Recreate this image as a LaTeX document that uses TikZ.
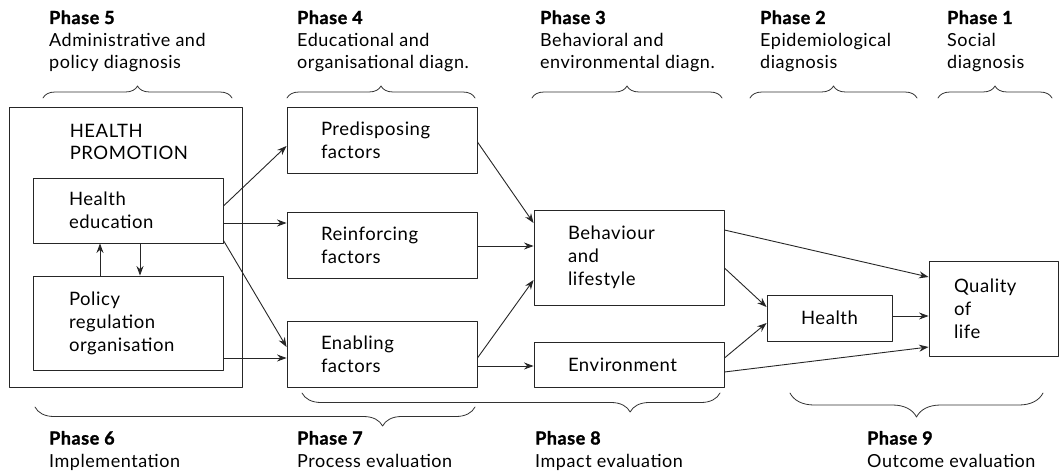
\documentclass[tikz,border=0pt]{standalone}
\usepackage{fontspec}
\setmainfont{Lato}[LetterSpace=3, BoldFeatures={FakeBold=1.5}]
\usetikzlibrary{arrows.meta,decorations.pathreplacing}
\begin{document}
\begin{tikzpicture}[line cap=round, line join=round, x=1pt, y=-1pt, >={Stealth[length=9.5pt,width=7pt]},
	box/.style={draw=black!85, line width=0.9pt, align=left, inner xsep=34pt, text width=122pt, font=\fontsize{18.5}{23}\selectfont},
	phase/.style={anchor=base west, align=left, inner sep=0pt, font=\fontsize{18}{22.5}\selectfont},
	link/.style={->, draw=black!85, line width=0.9pt},
	topbrace/.style={draw=black!80, line width=0.8pt, decorate, decoration={brace, amplitude=12pt}},
	lowbrace/.style={draw=black!80, line width=0.8pt, decorate, decoration={brace, mirror, amplitude=#1}}]
	\useasboundingbox (0,0) rectangle (1060,476);
	\node[phase] (p5) at (49,69) {\textbf{Phase 5}\\Administrative and\\policy diagnosis};
	\node[phase] (p4) at (297,69) {\textbf{Phase 4}\\Educational and\\organisational diagn.};
	\node[phase] (p3) at (540,69) {\textbf{Phase 3}\\Behavioral and\\environmental diagn.};
	\node[phase] (p2) at (760,69) {\textbf{Phase 2}\\Epidemiological\\diagnosis};
	\node[phase] (p1) at (947,69) {\textbf{Phase 1}\\Social\\diagnosis};
	\draw[topbrace] (43,98)--(232,98);
	\draw[topbrace] (287,98)--(475,98);
	\draw[topbrace] (532,98)--(722,98);
	\draw[topbrace] (750,98)--(917,98);
	\draw[topbrace] (938,98)--(1052,98);
	\node[draw=black!85, line width=0.9pt, minimum width=233pt, minimum height=280pt] (hp) at (125.5,247) {};
	\node[phase, font=\fontsize{18.5}{22}\selectfont] (hptitle) at ([xshift=61pt,yshift=-53pt]hp.north west) {HEALTH\\PROMOTION};
	\node[box, inner xsep=36pt, text width=118pt, minimum height=65pt] (he) at (128,210.5) {Health\\education};
	\node[box, inner xsep=36pt, text width=118pt, minimum height=94pt] (pol) at (128,323) {Policy\\regulation\\organisation};
	\node[box, minimum height=66pt] (pre) at (382,140) {Predisposing\\factors};
	\node[box, minimum height=66pt] (rei) at (382,245) {Reinforcing\\factors};
	\node[box, minimum height=66pt] (ena) at (382,354) {Enabling\\factors};
	\node[box, minimum height=95pt] (beh) at (629,257.5) {Behaviour\\and\\lifestyle};
	\node[box, minimum height=45pt] (env) at (629,364.5) {Environment};
	\node[box, align=center, inner xsep=28pt, text width=69pt, minimum height=46pt] (hea) at (829.5,318) {Health};
	\node[box, inner xsep=25pt, text width=79pt, minimum height=95pt] (qol) at (993.5,308.5) {Quality\\of\\life};
	\draw[link] ([xshift=-28pt]pol.north)--([xshift=-28pt]he.south);
	\draw[link] ([xshift=12pt]he.south)--([xshift=12pt]pol.north);
	\draw[link] ([yshift=4.5pt]he.east)--([yshift=-6pt]pre.west);
	\draw[link] ([yshift=-12.5pt]he.east)--([yshift=-12.5pt]he.east -| rei.west);
	\draw[link] ([yshift=3pt]he.south east)--([yshift=7pt]ena.west);
	\draw[link] ([yshift=-35pt]pol.east)--([yshift=-35pt]pol.east -| ena.west);
	\draw[link] ([yshift=-2pt]pre.east)--([yshift=34.5pt]beh.west);
	\draw[link] ([yshift=-1pt]rei.east)--([yshift=-1pt]rei.east -| beh.west);
	\draw[link] ([yshift=-4pt]ena.east)--([yshift=-22.5pt]beh.west);
	\draw[link] ([yshift=-12pt]ena.east)--([yshift=-12pt]ena.east -| env.west);
	\draw[link] ([yshift=27.5pt]beh.east)--([yshift=31.5pt]qol.west);
	\draw[link] ([yshift=-10.5pt]beh.east)--([yshift=11pt]hea.west);
	\draw[link] ([yshift=6.5pt]env.east)--([yshift=-5pt]hea.west);
	\draw[link] ([yshift=-7.5pt]env.east)--([yshift=-38.5pt]qol.west);
	\draw[link] ([yshift=2pt]hea.east)--([yshift=2pt]hea.east -| qol.west);
	\draw[lowbrace=19pt, decoration={aspect=0.79}] (35,407)--(475,407);
	\draw[lowbrace=19pt, decoration={aspect=0.785}] (302,393)--(720,393);
	\draw[lowbrace=24pt] (790,393)--(1043,393);
	\node[phase] (p6) at (49,467) {\textbf{Phase 6}\\Implementation};
	\node[phase] (p7) at (297,467) {\textbf{Phase 7}\\Process evaluation};
	\node[phase] (p8) at (535,467) {\textbf{Phase 8}\\Impact evaluation};
	\node[phase] (p9) at (867,467) {\textbf{Phase 9}\\Outcome evaluation};
\end{tikzpicture}
\end{document}
